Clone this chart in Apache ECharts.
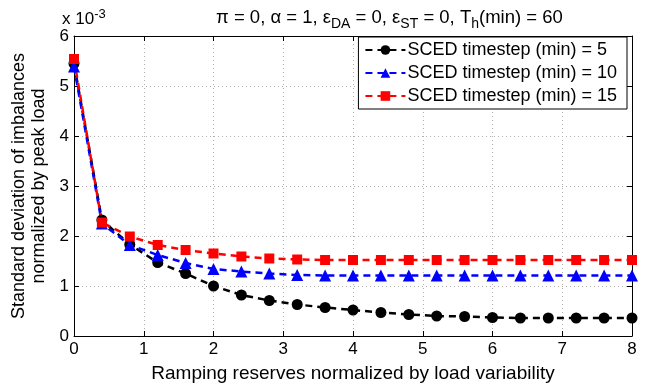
<!DOCTYPE html>
<html><head><meta charset="utf-8">
<script src="https://cdn.jsdelivr.net/npm/echarts@6/dist/echarts.min.js"></script>
<style>html,body{margin:0;padding:0;background:#fff}#c{width:654px;height:385px}</style>
</head><body><div id="c"></div>
<script>
const xValues = [0,0.4,0.8,1.2,1.6,2.0,2.4,2.8,3.2,3.6,4.0,4.4,4.8,5.2,5.6,6.0,6.4,6.8,7.2,7.6,8.0];
const seriesNames = ['SCED timestep (min) = 5','SCED timestep (min) = 10','SCED timestep (min) = 15'];
const ts5  = [5.45,2.32,1.83,1.47,1.25,1.00,0.82,0.71,0.63,0.57,0.52,0.47,0.43,0.40,0.39,0.37,0.36,0.36,0.36,0.36,0.36];
const ts10 = [5.39,2.25,1.82,1.62,1.46,1.34,1.29,1.25,1.22,1.21,1.21,1.21,1.21,1.21,1.21,1.21,1.21,1.21,1.21,1.21,1.21];
const ts15 = [5.54,2.27,1.99,1.82,1.72,1.65,1.59,1.55,1.53,1.52,1.52,1.52,1.52,1.52,1.52,1.52,1.52,1.52,1.52,1.52,1.52];
const xTicks = [0,1,2,3,4,5,6,7,8];
const yTicks = [0,1,2,3,4,5,6];

const F = 'Liberation Sans, Arial, Helvetica, sans-serif';
const pair = arr => xValues.map((x,i)=>[x,arr[i]]);
const chart = echarts.init(document.getElementById('c'), null, {renderer:'canvas'});
const gridLine = {show:true, lineStyle:{color:'#b0b0b0', type:[1,3], width:1}};
const axisBase = {
  min:0, interval:1,
  axisLine:{show:true, onZero:false, lineStyle:{color:'#000', width:1}},
  axisTick:{show:true, inside:true, length:5, lineStyle:{color:'#000'}},
};
function mk(name, data, color, symbol, size){
  return {name, type:'line', data, symbol, symbolSize:size, color,
    lineStyle:{color, width:2.5, type:[7,5]}, itemStyle:{color}, showSymbol:true, z: 2};
}
chart.setOption({
  animation:false,
  textStyle:{fontFamily:F},
  grid:{left:74, right:22, top:36, bottom:49, outerBoundsMode:'none', containLabel:false},
  title:{
    text:'π = 0, α = 1, ε{s|DA} = 0, ε{s|ST} = 0, T{s|h}(min) = 60',
    left:216, top:5, padding:0,
    textStyle:{fontFamily:F, fontSize:18.5, fontWeight:'normal', color:'#000',
      rich:{s:{fontFamily:F, fontSize:14, color:'#000', padding:[12,0,0,0]}}}
  },
  graphic:[{
    type:'text', left:62, top:8,
    style:{text:'x 10{p|-3}', font:'17px '+F, fill:'#000',
      rich:{p:{fontFamily:F, fontSize:13, fill:'#000', padding:[0,0,10,0]}}}
  }],
  legend:{
    orient:'vertical', right:27, top:37,
    data:seriesNames,
    itemWidth:40, itemHeight:12, itemGap:5,
    borderColor:'#000', borderWidth:1, borderRadius:0, backgroundColor:'#fff',
    padding:[4,10,4,6],
    textStyle:{fontFamily:F, fontSize:18, color:'#000', padding:[0,0,0,-3]}
  },
  xAxis:[
    Object.assign({}, axisBase, {type:'value', max:8, position:'bottom',
      splitLine:gridLine,
      axisLabel:{fontFamily:F, fontSize:17, color:'#000', margin:5, customValues:xTicks},
      name:'Ramping reserves normalized by load variability', nameLocation:'middle', nameGap:28,
      nameTextStyle:{fontFamily:F, fontSize:19, color:'#000'}}),
    Object.assign({}, axisBase, {type:'value', max:8, position:'top',
      splitLine:{show:false}, axisLabel:{show:false}})
  ],
  yAxis:[
    Object.assign({}, axisBase, {type:'value', max:6, position:'left',
      splitLine:gridLine,
      axisLabel:{fontFamily:F, fontSize:17, color:'#000', margin:5, customValues:yTicks},
      name:'Standard deviation of imbalances\nnormalized by peak load', nameLocation:'middle', nameGap:15,
      nameRotate:90,
      nameTextStyle:{fontFamily:F, fontSize:18, color:'#000', lineHeight:20}}),
    Object.assign({}, axisBase, {type:'value', max:6, position:'right',
      splitLine:{show:false}, axisLabel:{show:false}})
  ],
  series:[
    mk(seriesNames[0], pair(ts5), '#000000', 'circle', 11),
    mk(seriesNames[1], pair(ts10), '#0000ff', 'triangle', 12),
    mk(seriesNames[2], pair(ts15), '#ff0000', 'rect', 10)
  ]
});
</script></body></html>
